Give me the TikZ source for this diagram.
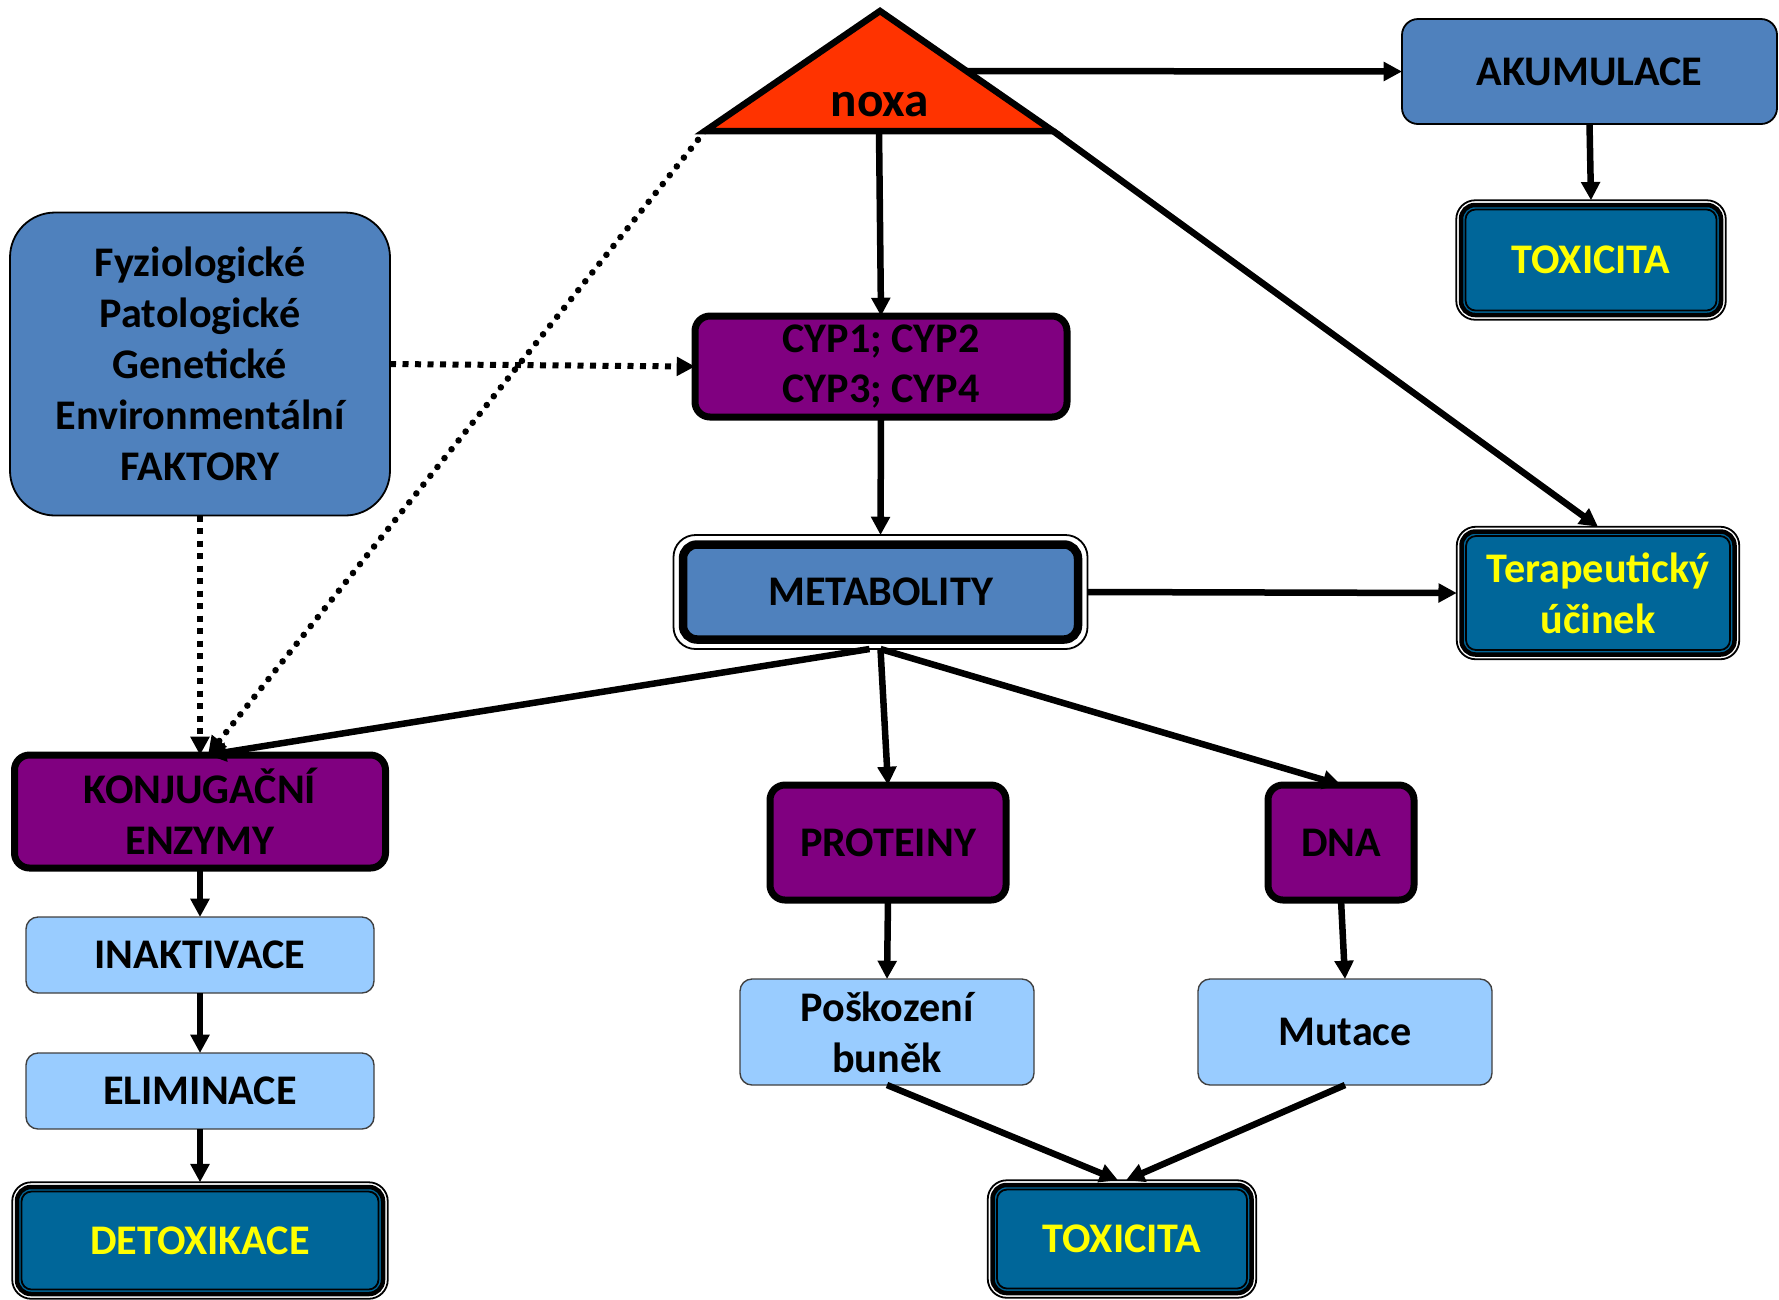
\documentclass[tikz,border=0pt]{standalone}
\usepackage{fontspec}
\setmainfont{Carlito}
\usetikzlibrary{arrows.meta,fit,calc}
\newlength\px \setlength\px{0.01cm}
\definecolor{bluebx}{HTML}{4F81BD}
\definecolor{purp}{HTML}{800080}
\definecolor{toxblue}{HTML}{006699}
\definecolor{lblue}{HTML}{99CCFF}
\definecolor{noxred}{HTML}{FF3300}
\definecolor{txtyellow}{HTML}{FFFF00}
\tikzset{
  base/.style={font=\fontsize{12}{14.5}\selectfont\bfseries, align=center, outer sep=0pt, inner sep=0pt, rectangle},
  bbox/.style={base, fill=bluebx, draw=black, line width=1.8\px},
  pbox/.style={base, fill=purp, draw=black, line width=7\px, rounded corners=15\px},
  lbox/.style={base, fill=lblue, draw=black!75, line width=1.4\px, rounded corners=12\px},
  tbox/.style={base, fill=toxblue, draw=black, line width=4.5\px, rounded corners=14\px, text=txtyellow},
  mbox/.style={base, fill=bluebx, draw=black, line width=8.5\px, rounded corners=14\px},
  ring/.style={draw=black, line width=1.8\px, outer sep=0pt, fill=none},
  arr/.style={line width=6.5\px, -{Triangle[length=5.2pt, width=5.2pt]}},
  dotarr/.style={line width=6\px, dash pattern=on 6\px off 6.5\px, -{Triangle[length=5.2pt, width=5.2pt]}},
  rdotarr/.style={line width=6.5\px, line cap=round, dash pattern=on 0.1\px off 11.2\px, -{Triangle[length=5.2pt, width=5.2pt]}}
}
\begin{document}
\begin{tikzpicture}[x=0.01cm,y=-0.01cm]
\path[use as bounding box] (0,0) rectangle (1779,1299);

% triangle noxa
\coordinate (apex) at (880,11);
\coordinate (tl) at (705,131);
\coordinate (tr) at (1053,131);
\filldraw[fill=noxred, draw=black, line width=6.5\px] (tl) -- (apex) -- (tr) -- cycle;
\node[base, font=\fontsize{14}{16}\selectfont\bfseries] (noxa) at (880,105) {noxa};
\coordinate (nr) at ($(apex)!0.5!(tr)$);
\coordinate (nb) at ($(tl)!0.5!(tr)$);

% nodes
\node[bbox, rounded corners=16\px, minimum width=375\px, minimum height=105\px] (akum) at (1589.5,71.5) {AKUMULACE};

\node[tbox, minimum width=260\px, minimum height=110\px] (tox1) at (1591,260) {TOXICITA};
\node[ring, fit=(tox1), inner sep=4.75\px, rounded corners=19\px] (tox1O) {};
\node[ring, fit=(tox1), inner sep=-4.5\px, rounded corners=10\px] (tox1I) {};

\node[tbox, minimum width=273\px, minimum height=123\px] (terap) at (1598,593) {Terapeutický\\účinek};
\node[ring, fit=(terap), inner sep=4.75\px, rounded corners=19\px] (terapO) {};
\node[ring, fit=(terap), inner sep=-4.5\px, rounded corners=10\px] (terapI) {};

\node[tbox, minimum width=259\px, minimum height=108\px] (tox2) at (1122,1239) {TOXICITA};
\node[ring, fit=(tox2), inner sep=4.75\px, rounded corners=19\px] (tox2O) {};
\node[ring, fit=(tox2), inner sep=-4.5\px, rounded corners=10\px] (tox2I) {};

\node[tbox, minimum width=366\px, minimum height=107\px] (detox) at (200,1240.5) {DETOXIKACE};
\node[ring, fit=(detox), inner sep=4.75\px, rounded corners=19\px] (detoxO) {};
\node[ring, fit=(detox), inner sep=-4.5\px, rounded corners=10\px] (detoxI) {};

\node[mbox, minimum width=395\px, minimum height=95\px] (metab) at (880.5,592) {METABOLITY};
\node[ring, fit=(metab), inner sep=9.5\px, rounded corners=22\px] (metabO) {};

\node[pbox, minimum width=372\px, minimum height=101\px] (cyp) at (881,366.5) {CYP1; CYP2\\CYP3; CYP4};

\node[bbox, rounded corners=45\px, minimum width=380\px, minimum height=303\px] (fakt) at (200,364)
  {Fyziologické\\Patologické\\Genetické\\Environmentální\\FAKTORY};

\node[pbox, minimum width=371\px, minimum height=113\px] (konj) at (200,811.5) {KONJUGAČNÍ\\ENZYMY};
\node[lbox, minimum width=348\px, minimum height=76\px] (inakt) at (200,955) {INAKTIVACE};
\node[lbox, minimum width=348\px, minimum height=76\px] (elim) at (200,1091) {ELIMINACE};

\node[pbox, minimum width=236\px, minimum height=115\px] (prot) at (888,842.5) {PROTEINY};
\node[pbox, minimum width=146\px, minimum height=115\px] (dna) at (1341,842.5) {DNA};
\node[lbox, minimum width=294\px, minimum height=106\px] (posk) at (887,1032) {Poškození\\buněk};
\node[lbox, minimum width=294\px, minimum height=106\px] (mut) at (1345,1032) {Mutace};

% connectors
\draw[arr] (nr) -- (akum.west);
\draw[arr] (tr) -- (terapO.north);
\draw[arr] (nb) -- (cyp.north);
\draw[arr] (akum.south) -- (tox1O.north);
\draw[arr] (cyp.south) -- (metabO.north);
\draw[arr] (metabO.east) -- (terapO.west);
\draw[dotarr] (fakt.east) -- (cyp.west);
\draw[dotarr] (fakt.south) -- (konj.north);
\draw[rdotarr] (tl) -- ($(konj.north)+(8,0)$);
\draw[arr] ($(metabO.south)+(-11,0)$) -- ($(konj.north)+(8,0)$);
\draw[arr] (metabO.south) -- (prot.north);
\draw[arr] (metabO.south) -- (dna.north);
\draw[arr] (konj.south) -- (inakt.north);
\draw[arr] (inakt.south) -- (elim.north);
\draw[arr] (elim.south) -- (detoxO.north);
\draw[arr] (prot.south) -- (posk.north);
\draw[arr] (dna.south) -- (mut.north);
\draw[arr] (posk.south) -- ($(tox2O.north)+(-4,0)$);
\draw[arr] (mut.south) -- ($(tox2O.north)+(4,0)$);
\end{tikzpicture}
\end{document}
